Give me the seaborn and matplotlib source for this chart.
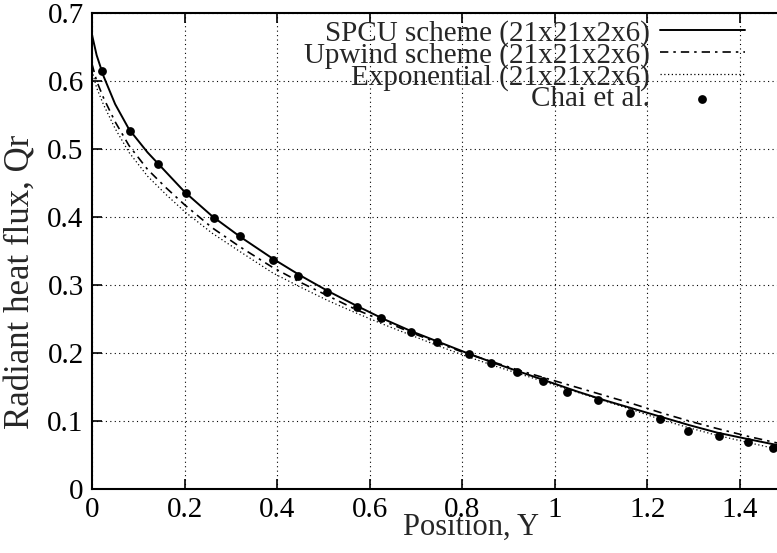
import pandas as pd
import matplotlib
matplotlib.use('Agg')
import matplotlib.pyplot as plt
import seaborn as sns

# curve nodes
x_curve = [0, 0.01, 0.025, 0.05, 0.08, 0.12, 0.16, 0.2, 0.26, 0.32, 0.39, 0.45,
           0.51, 0.57, 0.63, 0.69, 0.75, 0.81, 0.87, 0.93, 0.99, 1.05, 1.11,
           1.17, 1.23, 1.29, 1.35, 1.42, 1.485]
spcu = [0.668, 0.638, 0.607, 0.566, 0.529, 0.495, 0.466, 0.437, 0.401, 0.371,
        0.339, 0.314, 0.291, 0.270, 0.250, 0.232, 0.216, 0.200, 0.185, 0.171,
        0.157, 0.143, 0.130, 0.118, 0.106, 0.094, 0.083, 0.073, 0.064]
upwind = [0.625, 0.600, 0.575, 0.540, 0.505, 0.470, 0.443, 0.418, 0.384, 0.356,
          0.326, 0.304, 0.284, 0.264, 0.247, 0.230, 0.214, 0.199, 0.186, 0.173,
          0.161, 0.149, 0.137, 0.125, 0.112, 0.100, 0.089, 0.077, 0.067]
expo = [0.615, 0.590, 0.565, 0.530, 0.495, 0.460, 0.433, 0.408, 0.376, 0.349,
        0.318, 0.297, 0.277, 0.259, 0.242, 0.226, 0.210, 0.195, 0.181, 0.168,
        0.155, 0.142, 0.129, 0.116, 0.102, 0.090, 0.079, 0.068, 0.058]

# Chai et al. reference points
x_chai = [0.022, 0.082, 0.143, 0.204, 0.264, 0.32, 0.39, 0.446, 0.507, 0.572,
          0.624, 0.689, 0.746, 0.815, 0.863, 0.919, 0.975, 1.027, 1.094, 1.162,
          1.227, 1.287, 1.355, 1.417, 1.472]
y_chai = [0.615, 0.526, 0.478, 0.435, 0.398, 0.372, 0.337, 0.313, 0.290, 0.268,
          0.251, 0.231, 0.216, 0.199, 0.185, 0.172, 0.159, 0.143, 0.131, 0.112,
          0.103, 0.085, 0.078, 0.069, 0.060]

sns.set_theme(style='white')
plt.rcParams['font.family'] = ['Liberation Serif', 'DejaVu Serif']

fig = plt.figure(figsize=(7.77, 5.53), dpi=100)
ax = fig.add_axes([92/777, 64/553, 1 - 92/777 + 0.003, (489 - 13)/553])

sns.lineplot(x=x_curve, y=spcu, ax=ax, color='black', lw=1.4,
             label='SPCU scheme (21x21x2x6)')
sns.lineplot(x=x_curve, y=upwind, ax=ax, color='black', lw=1.2,
             linestyle=(0, (5, 3, 1.5, 3)), label='Upwind scheme (21x21x2x6)')
sns.lineplot(x=x_curve, y=expo, ax=ax, color='black', lw=0.9,
             linestyle=(0, (1, 2)), label='Exponential (21x21x2x6)')
sns.scatterplot(x=x_chai, y=y_chai, ax=ax, color='black', s=40,
                edgecolor='black', linewidth=0, label='Chai et al.', zorder=5)

ax.set_xlim(0, 1.485)
ax.set_ylim(0, 0.7)
ax.set_xticks([0, 0.2, 0.4, 0.6, 0.8, 1, 1.2, 1.4])
ax.set_xticklabels(['0', '0.2', '0.4', '0.6', '0.8', '1', '1.2', '1.4'])
ax.set_yticks([0, 0.1, 0.2, 0.3, 0.4, 0.5, 0.6, 0.7])
ax.set_yticklabels(['0', '0.1', '0.2', '0.3', '0.4', '0.5', '0.6', '0.7'])
ax.tick_params(direction='in', length=7, width=1.2, labelsize=21,
               top=True, right=False, bottom=True, left=True, pad=6,
               colors='black')
ax.grid(True, color='black', linestyle=(0, (1, 3)), lw=0.8)
for s in ['left', 'bottom', 'top']:
    ax.spines[s].set_color('black')
    ax.spines[s].set_linewidth(1.5)
ax.spines['right'].set_visible(False)

ax.set_xlabel('Position, Y', fontsize=22)
ax.xaxis.set_label_coords(0.552, -0.05)
ax.set_ylabel('Radiant heat flux, Qr', fontsize=25)
ax.yaxis.set_label_coords(-0.079, 0.435)

leg = ax.legend(loc='upper right', bbox_to_anchor=(0.975, 1.022), frameon=False,
                markerfirst=False, fontsize=21, handlelength=2.9,
                labelspacing=-0.17, handletextpad=0.35, borderaxespad=0.2)

fig.savefig('out.png', dpi=100)
